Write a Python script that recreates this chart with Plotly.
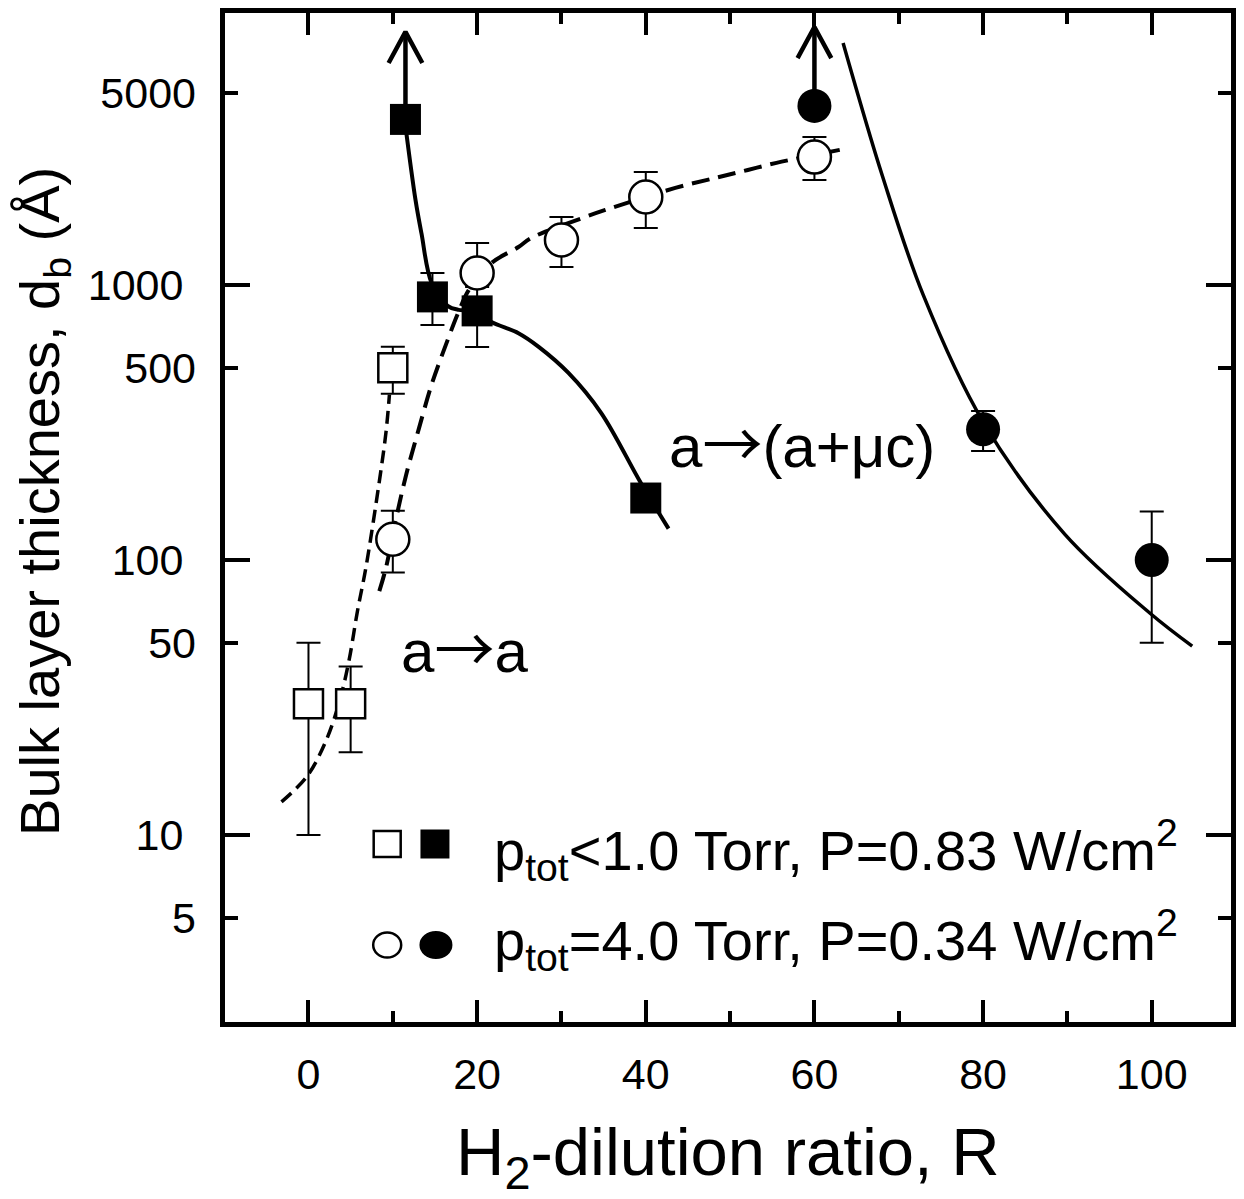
import plotly.graph_objects as go

# ---------------- data ----------------
# open squares: p_tot < 1.0 Torr
sq_open_x = [0, 5, 10]
sq_open_y = [30, 30, 500]
sq_open_ep = [20, 11, 96]
sq_open_em = [20, 10, 98]

# filled squares: p_tot < 1.0 Torr
sq_fill_x = [11.5, 14.7, 20, 40]
sq_fill_y = [4000, 905, 805, 168]
sq_fill_ep = [0, 200, 190, 0]
sq_fill_em = [0, 190, 210, 0]

# open circles: p_tot = 4.0 Torr
ci_open_x = [10, 20, 30, 40, 60]
ci_open_y = [119, 1105, 1458, 2090, 2918]
ci_open_ep = [32, 316, 308, 486, 532]
ci_open_em = [29, 122, 295, 479, 508]

# filled circles: p_tot = 4.0 Torr
ci_fill_x = [60, 80, 100]
ci_fill_y = [4480, 299, 100]
ci_fill_ep = [0, 49, 50]
ci_fill_em = [0, 50, 50]

# guide-to-the-eye curves
guide_sq_open_x = [-3.2, -0.2, 2.1, 3.7, 4.8, 5.8, 6.8, 8.4, 9.2, 9.6]
guide_sq_open_y = [13.2, 16.3, 22.1, 30.8, 43, 65, 93.5, 193, 293, 399]

guide_ci_open_x = [8.4, 9.2, 10.4, 11.6, 13.1, 14.6, 16.3, 17.8, 19.0, 21.7,
                   24.9, 26.4, 32.8, 35.2, 43.5, 48.7, 52.1, 55.5, 63.0]
guide_ci_open_y = [77, 94, 142, 205, 301, 434, 607, 798, 958, 1202,
                   1374, 1482, 1766, 1874, 2254, 2470, 2620, 2780, 3100]

guide_sq_fill_x = [11.4, 12.7, 13.4, 14.6, 16.5, 17.8, 19.7, 21.7, 24.9,
                   27.3, 30.8, 34.7, 39.4, 42.7]
guide_sq_fill_y = [4000, 2030, 1540, 1017, 840, 812, 805, 733, 668,
                   596, 480, 343, 191, 130]

guide_ci_fill_x = [63.4, 68.1, 72.9, 80.0, 89.7, 99.8, 104.8]
guide_ci_fill_y = [7590, 2470, 920, 318, 124, 64, 48.6]

# lower-limit arrows (value is a lower bound)
arrow_x = [11.5, 60]
arrow_base = [4000, 4480]
arrow_tip = [8320, 8670]

x_ticks = [0, 20, 40, 60, 80, 100]
y_major_ticks = [10, 100, 1000]
y_minor_ticks = [5, 50, 500, 5000]

FONT = "Liberation Sans, Arial, sans-serif"
ARROW = '<span style="font-family:Noto Sans CJK JP">→</span>'

fig = go.Figure()

# guide curves
fig.add_trace(go.Scatter(x=guide_sq_open_x, y=guide_sq_open_y, mode="lines",
                         line=dict(color="black", width=3.5, dash="13px,7px",
                                   shape="spline", smoothing=1.0),
                         showlegend=False, hoverinfo="skip"))
fig.add_trace(go.Scatter(x=guide_ci_open_x, y=guide_ci_open_y, mode="lines",
                         line=dict(color="black", width=4, dash="18px,9px",
                                   shape="spline", smoothing=1.0),
                         showlegend=False, hoverinfo="skip"))
fig.add_trace(go.Scatter(x=guide_sq_fill_x, y=guide_sq_fill_y, mode="lines",
                         line=dict(color="black", width=4,
                                   shape="spline", smoothing=1.0),
                         showlegend=False, hoverinfo="skip"))
fig.add_trace(go.Scatter(x=guide_ci_fill_x, y=guide_ci_fill_y, mode="lines",
                         line=dict(color="black", width=3.5,
                                   shape="spline", smoothing=1.0),
                         showlegend=False, hoverinfo="skip"))

# arrows
head_dx = 2.0
head_ratio = 10 ** 0.113
for xa, yb, yt in zip(arrow_x, arrow_base, arrow_tip):
    fig.add_trace(go.Scatter(
        x=[xa, xa, None, xa - head_dx, xa, xa + head_dx],
        y=[yb, yt, None, yt / head_ratio, yt, yt / head_ratio],
        mode="lines", line=dict(color="black", width=4.5),
        showlegend=False, hoverinfo="skip"))


def err(p, m):
    return dict(type="data", symmetric=False, array=p, arrayminus=m,
                color="black", thickness=2, width=12)


fig.add_trace(go.Scatter(x=sq_open_x, y=sq_open_y, mode="markers",
                         marker=dict(symbol="square", size=29, color="white",
                                     line=dict(color="black", width=2.5)),
                         error_y=err(sq_open_ep, sq_open_em), showlegend=False))
fig.add_trace(go.Scatter(x=sq_fill_x, y=sq_fill_y, mode="markers",
                         marker=dict(symbol="square", size=31, color="black",
                                     line=dict(width=0)),
                         error_y=err(sq_fill_ep, sq_fill_em), showlegend=False))
fig.add_trace(go.Scatter(x=ci_open_x, y=ci_open_y, mode="markers",
                         marker=dict(symbol="circle", size=33, color="white",
                                     line=dict(color="black", width=2.5)),
                         error_y=err(ci_open_ep, ci_open_em), showlegend=False))
fig.add_trace(go.Scatter(x=ci_fill_x, y=ci_fill_y, mode="markers",
                         marker=dict(symbol="circle", size=34, color="black",
                                     line=dict(width=0)),
                         error_y=err(ci_fill_ep, ci_fill_em), showlegend=False))

# dummy trace to activate the overlay axis carrying the 5/50/500/5000 labels
fig.add_trace(go.Scatter(x=[None], y=[None], yaxis="y2", showlegend=False,
                         hoverinfo="skip"))

YR = [0.320, 3.989]
XR = [-9.9, 109.4]

fig.update_layout(
    width=1244, height=1199,
    margin=dict(l=225, r=8, t=13, b=177),
    paper_bgcolor="white", plot_bgcolor="white",
    font=dict(family=FONT, color="black", size=42),
    xaxis=dict(range=XR, tickvals=x_ticks, ticks="inside", ticklen=22,
               tickwidth=4, tickcolor="black", showline=True, linewidth=5,
               linecolor="black", mirror="ticks", showgrid=False,
               zeroline=False, tickfont=dict(size=43, family=FONT),
               ticklabelstandoff=10,
               minor=dict(dtick=10, tick0=0, ticks="inside", ticklen=11,
                          tickwidth=4, tickcolor="black", showgrid=False)),
    yaxis=dict(type="log", range=YR, tickvals=y_major_ticks,
               ticktext=[str(v) for v in y_major_ticks],
               ticks="inside", ticklen=25, tickwidth=4, tickcolor="black",
               showline=True, linewidth=5, linecolor="black", mirror="ticks",
               showgrid=False, zeroline=False,
               tickfont=dict(size=43, family=FONT), ticklabelstandoff=28),
    yaxis2=dict(type="log", range=YR, overlaying="y", side="left",
                tickvals=y_minor_ticks,
                ticktext=[str(v) for v in y_minor_ticks],
                ticks="inside", ticklen=13, tickwidth=4, tickcolor="black",
                showline=False, mirror="ticks", showgrid=False,
                zeroline=False, tickfont=dict(size=43, family=FONT),
                ticklabelstandoff=28),
)


def px2paper_x(px):
    return (px - 225) / 1011.0


def px2paper_y(py):
    return (1022 - py) / 1009.0


annotations = [
    dict(text="H<sub>2</sub>-dilution ratio, R", x=px2paper_x(730),
         y=px2paper_y(1156), xref="paper", yref="paper", showarrow=False,
         xanchor="center", yanchor="middle", font=dict(size=67, family=FONT)),
    dict(text="Bulk layer thickness, d<sub>b</sub> (Å)", x=px2paper_x(42),
         y=px2paper_y(501), xref="paper", yref="paper", showarrow=False,
         textangle=-90, xanchor="center", yanchor="middle",
         font=dict(size=56, family=FONT)),
    dict(text="a" + ARROW + "a", x=px2paper_x(400), y=px2paper_y(645),
         xref="paper", yref="paper", showarrow=False, xanchor="left",
         yanchor="middle", font=dict(size=60, family=FONT)),
    dict(text="a" + ARROW + "(a+μc)", x=px2paper_x(669), y=px2paper_y(440),
         xref="paper", yref="paper", showarrow=False, xanchor="left",
         yanchor="middle", font=dict(size=60, family=FONT)),
    dict(text="p<sub>tot</sub>&lt;1.0 Torr, P=0.83 W/cm<sup>2</sup>",
         x=px2paper_x(493), y=px2paper_y(850), xref="paper", yref="paper",
         showarrow=False, xanchor="left", yanchor="middle",
         font=dict(size=56, family=FONT)),
    dict(text="p<sub>tot</sub>=4.0 Torr, P=0.34 W/cm<sup>2</sup>",
         x=px2paper_x(493), y=px2paper_y(940), xref="paper", yref="paper",
         showarrow=False, xanchor="left", yanchor="middle",
         font=dict(size=56, family=FONT)),
]
fig.update_layout(annotations=annotations)


def glyph(kind, cx, cy, w, h, fill, lw):
    return dict(type=kind, xref="paper", yref="paper", xsizemode="pixel",
                ysizemode="pixel", xanchor=px2paper_x(cx),
                yanchor=px2paper_y(cy), x0=-w / 2, x1=w / 2, y0=-h / 2,
                y1=h / 2, fillcolor=fill,
                line=dict(color="black", width=lw))


shapes = [
    glyph("rect", 388, 844, 27, 26, "white", 2.5),
    glyph("rect", 436, 844, 29, 29, "black", 0),
    glyph("circle", 388, 945, 28, 25, "white", 2.5),
    glyph("circle", 437, 945, 33, 28, "black", 0),
]
fig.update_layout(shapes=shapes)

fig.write_html("out.html")
